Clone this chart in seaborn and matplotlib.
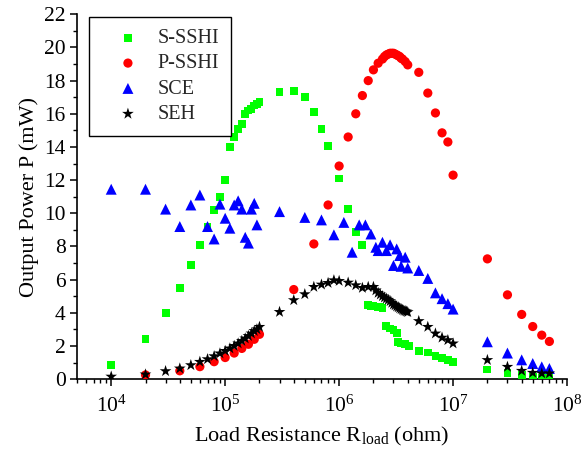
import matplotlib
matplotlib.use("Agg")
import matplotlib.pyplot as plt
from matplotlib.ticker import LogLocator, MultipleLocator, NullFormatter
import seaborn as sns
import pandas as pd

# ---------------- data ----------------
s_sshi_x = [1e4, 2e4, 3e4, 4e4, 5e4, 6e4, 7e4, 8e4, 9e4, 1e5,
            1.1e5, 1.2e5, 1.3e5, 1.4e5, 1.5e5, 1.6e5, 1.7e5, 1.8e5, 1.9e5, 2e5,
            3e5, 4e5, 5e5, 6e5, 7e5, 8e5, 1e6, 1.2e6, 1.4e6, 1.6e6,
            1.8e6, 1.9e6, 2.0e6, 2.1e6, 2.2e6, 2.3e6, 2.4e6,
            2.6e6, 2.8e6, 3.0e6, 3.2e6, 3.3e6, 3.5e6, 3.8e6, 4.1e6,
            5e6, 6e6, 7e6, 8e6, 9e6, 1e7, 2e7, 3e7, 4e7, 5e7, 6e7, 7e7]
s_sshi_y = [0.85, 2.4, 4.0, 5.5, 6.9, 8.1, 9.2, 10.2, 11.0, 12.0,
            14.0, 14.6, 15.1, 15.4, 16.0, 16.2, 16.3, 16.5, 16.6, 16.7,
            17.3, 17.4, 17.0, 16.1, 15.1, 14.05, 12.1, 10.25, 8.87, 8.1,
            4.45, 4.42, 4.4, 4.38, 4.35, 4.33, 4.3,
            3.2, 3.05, 2.95, 2.8, 2.25, 2.15, 2.1, 2.0,
            1.7, 1.6, 1.4, 1.25, 1.15, 1.05, 0.58, 0.38, 0.24, 0.14, 0.1, 0.1]

p_sshi_x = [2e4, 4e4, 6e4, 8e4, 1e5, 1.2e5, 1.4e5, 1.6e5, 1.8e5, 2e5,
            4e5, 6e5, 8e5, 1e6, 1.2e6, 1.4e6, 1.6e6, 1.8e6, 2e6, 2.2e6,
            2.4e6, 2.5e6, 2.6e6, 2.7e6, 2.8e6, 2.9e6, 3.0e6, 3.1e6, 3.2e6, 3.3e6,
            3.4e6, 3.5e6, 3.6e6, 3.8e6, 4e6,
            5e6, 6e6, 7e6, 8e6, 9e6, 1e7, 2e7, 3e7, 4e7, 5e7, 6e7, 7e7]
p_sshi_y = [0.25, 0.5, 0.75, 1.05, 1.3, 1.57, 1.85, 2.1, 2.4, 2.7,
            5.4, 8.15, 10.5, 12.85, 14.6, 16.0, 17.1, 18.0, 18.65, 19.05,
            19.3, 19.45, 19.55, 19.6, 19.65, 19.65, 19.65, 19.6, 19.55, 19.5,
            19.45, 19.35, 19.3, 19.15, 18.95,
            18.5, 17.25, 16.05, 14.85, 14.3, 12.3, 7.25, 5.08, 3.9, 3.17, 2.65, 2.27]

sce_x = [1e4, 2e4, 3e4, 4e4, 5e4, 6e4, 7e4, 8e4, 9e4, 1e5,
         1.1e5, 1.2e5, 1.3e5, 1.4e5, 1.5e5, 1.6e5, 1.7e5, 1.8e5, 1.9e5,
         3e5, 5e5, 7e5, 9e5, 1.1e6, 1.3e6, 1.5e6, 1.7e6, 1.9e6, 2.1e6, 2.2e6,
         2.4e6, 2.6e6, 2.8e6, 3.0e6, 3.2e6, 3.4e6, 3.5e6, 3.8e6, 4e6,
         5e6, 6e6, 7e6, 8e6, 9e6, 1e7, 2e7, 3e7, 4e7, 5e7, 6e7, 7e7]
sce_y = [11.45, 11.45, 10.25, 9.2, 10.5, 11.1, 9.2, 8.45, 10.55, 9.7,
         9.1, 10.5, 10.75, 10.25, 8.55, 8.2, 10.25, 10.6, 9.3,
         10.1, 9.75, 9.6, 8.7, 9.45, 7.65, 9.3, 9.3, 8.75, 7.95, 7.75,
         8.25, 7.75, 8.1, 6.85, 7.85, 7.45, 6.8, 7.35, 6.7,
         6.55, 6.07, 5.2, 4.85, 4.55, 4.22, 2.25, 1.57, 1.16, 0.94, 0.74, 0.64]

seh_x = [1e4, 2e4, 3e4, 4e4, 5e4, 6e4, 7e4, 8e4, 9e4, 1e5,
         1.1e5, 1.2e5, 1.3e5, 1.4e5, 1.5e5, 1.6e5, 1.7e5, 1.8e5, 1.9e5, 2e5,
         3e5, 4e5, 5e5, 6e5, 7e5, 8e5, 9e5, 1e6,
         1.2e6, 1.4e6, 1.6e6, 1.8e6, 2e6,
         2.1e6, 2.2e6, 2.3e6, 2.4e6, 2.5e6, 2.6e6, 2.7e6, 2.8e6, 2.9e6, 3.0e6,
         3.1e6, 3.2e6, 3.3e6, 3.4e6, 3.5e6, 3.6e6, 3.7e6, 3.8e6, 3.9e6, 4.0e6,
         5e6, 6e6, 7e6, 8e6, 9e6, 1e7, 2e7, 3e7, 4e7, 5e7, 6e7, 7e7]
seh_y = [0.15, 0.28, 0.48, 0.64, 0.84, 1.04, 1.2, 1.38, 1.55, 1.7,
         1.85, 2.0, 2.15, 2.3, 2.45, 2.6, 2.75, 2.9, 3.0, 3.15,
         4.05, 4.76, 5.12, 5.56, 5.7, 5.8, 5.96, 5.92,
         5.82, 5.66, 5.5, 5.56, 5.56,
         5.35, 5.2, 5.1, 5.0, 4.92, 4.85, 4.78, 4.7, 4.6, 4.5,
         4.45, 4.38, 4.33, 4.27, 4.22, 4.17, 4.13, 4.1, 4.07, 4.04,
         3.5, 3.15, 2.75, 2.5, 2.35, 2.15, 1.15, 0.74, 0.5, 0.38, 0.34, 0.34]

series_names = ["S-SSHI", "P-SSHI", "SCE", "SEH"]
series_colors = ["#00ff00", "#ff0000", "#0000ff", "#000000"]
series_markers = ["s", "o", "^", "*"]
series_sizes = [32, 44, 62, 78]

# ---------------- style ----------------
sns.set_theme(style="ticks")
plt.rcParams["font.family"] = ["Liberation Serif", "DejaVu Serif"]
plt.rcParams["mathtext.fontset"] = "custom"
plt.rcParams["mathtext.rm"] = "Liberation Serif"
plt.rcParams["mathtext.it"] = "Liberation Serif:italic"
plt.rcParams["mathtext.bf"] = "Liberation Serif:bold"

fig = plt.figure(figsize=(5.87, 4.54), dpi=100)
ax = fig.add_axes([0.131, 0.165, 0.835, 0.8035])

data_sets = [(s_sshi_x, s_sshi_y), (p_sshi_x, p_sshi_y), (sce_x, sce_y), (seh_x, seh_y)]
for (xs, ys), name, col, mk, sz in zip(data_sets, series_names, series_colors,
                                        series_markers, series_sizes):
    df = pd.DataFrame({"R": xs, "P": ys})
    sns.scatterplot(data=df, x="R", y="P", ax=ax, color=col, marker=mk, s=sz,
                    linewidth=0, edgecolor="none", label=name, zorder=3)

ax.set_xscale("log")
ax.set_xlim(5000, 1e8)
ax.set_ylim(0, 22)
ax.yaxis.set_major_locator(MultipleLocator(2))
ax.yaxis.set_minor_locator(MultipleLocator(1))
ax.xaxis.set_major_locator(LogLocator(base=10, numticks=10))
ax.xaxis.set_minor_locator(LogLocator(base=10, subs=range(2, 10), numticks=20))
ax.xaxis.set_minor_formatter(NullFormatter())

sns.despine(ax=ax)
for sp in ["left", "bottom"]:
    ax.spines[sp].set_color("black")
    ax.spines[sp].set_linewidth(1.2)
ax.tick_params(axis="both", which="major", direction="out", length=5, width=1.1,
               color="black", labelsize=15.5, labelcolor="black", pad=3)
ax.tick_params(axis="x", which="major", pad=7)
ax.tick_params(axis="both", which="minor", direction="out", length=3, width=1.0,
               color="black")

ax.set_xlabel(r"Load Resistance R$_{\mathrm{load}}$ (ohm)", fontsize=16, color="black",
              labelpad=6)
ax.set_ylabel("Output Power P (mW)", fontsize=16, color="black", labelpad=4)

leg = ax.legend(loc="upper left", bbox_to_anchor=(0.024, 0.993), fontsize=14.5,
                frameon=True, fancybox=False, shadow=False, borderpad=0.6,
                handlelength=2.7, handletextpad=0.1, labelspacing=0.31,
                borderaxespad=0)
leg.get_frame().set_edgecolor("black")
leg.get_frame().set_linewidth(1.0)
leg.get_frame().set_alpha(1)

fig.savefig("out.png", dpi=100)
